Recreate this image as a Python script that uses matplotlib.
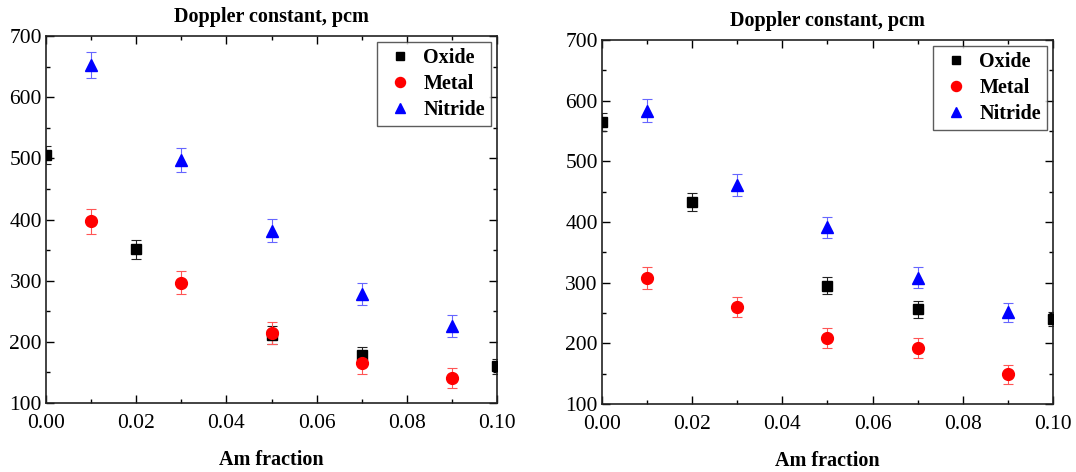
import numpy as np
import matplotlib.pyplot as plt
from matplotlib.ticker import MultipleLocator

plt.rcParams['font.family'] = ['Liberation Serif', 'DejaVu Serif']

# left panel
ox_x1 = [0.0, 0.02, 0.05, 0.07, 0.10]
ox_y1 = [505, 351, 211, 178, 160]
ox_e1 = [15, 15, 15, 14, 12]
me_x1 = [0.01, 0.03, 0.05, 0.07, 0.09]
me_y1 = [397, 297, 215, 166, 141]
me_e1 = [20, 19, 18, 18, 17]
ni_x1 = [0.01, 0.03, 0.05, 0.07, 0.09]
ni_y1 = [653, 497, 382, 279, 226]
ni_e1 = [21, 20, 19, 18, 18]

# right panel
ox_x2 = [0.0, 0.02, 0.05, 0.07, 0.10]
ox_y2 = [565, 433, 295, 256, 240]
ox_e2 = [15, 15, 14, 14, 12]
me_x2 = [0.01, 0.03, 0.05, 0.07, 0.09]
me_y2 = [307, 260, 209, 192, 149]
me_e2 = [18, 17, 17, 16, 16]
ni_x2 = [0.01, 0.03, 0.05, 0.07, 0.09]
ni_y2 = [583, 461, 391, 308, 251]
ni_e2 = [19, 18, 18, 17, 16]

fig = plt.figure(figsize=(10.76, 4.72), dpi=100)
ax1 = fig.add_axes([0.0428, 0.1462, 0.4191, 0.7775])
ax2 = fig.add_axes([0.5595, 0.1441, 0.4191, 0.7712])

def panel(ax, data, tpad):
    series = [('Oxide', 's', 'black', '#222222', 7), ('Metal', 'o', 'red', '#ff5555', 8.5),
              ('Nitride', '^', 'blue', '#6666ff', 9)]
    for (name, m, c, ec, ms), (x, y, e) in zip(series, data):
        ax.errorbar(x, y, yerr=e, fmt='none', ecolor=ec, elinewidth=0.8, capsize=3.5, capthick=0.8, zorder=2)
        ax.plot(x, y, m, color=c, ms=ms, mec=c, label=name, zorder=3)
    ax.set_xlim(0, 0.1)
    ax.set_ylim(100, 700)
    ax.xaxis.set_major_locator(MultipleLocator(0.02))
    ax.xaxis.set_minor_locator(MultipleLocator(0.01))
    ax.yaxis.set_major_locator(MultipleLocator(100))
    ax.yaxis.set_minor_locator(MultipleLocator(50))
    ax.xaxis.set_major_formatter(plt.FuncFormatter(lambda v, p: '%.2f' % v))
    ax.tick_params(which='both', direction='in', top=True, right=True, width=1.0)
    ax.tick_params(which='major', length=6, labelsize=15.5)
    ax.tick_params(axis='x', pad=8)
    ax.tick_params(axis='y', pad=3)
    ax.tick_params(which='minor', length=3)
    for s in ax.spines.values():
        s.set_linewidth(1.2)
        s.set_color('#222222')
    ax.set_title('Doppler constant, pcm', fontsize=14.5, fontweight='bold', pad=tpad)
    ax.set_xlabel('Am fraction', fontsize=14.5, fontweight='bold', labelpad=12)
    leg = ax.legend(loc='upper right', frameon=True, fancybox=False,
                    edgecolor='#333333', borderaxespad=0.3, handletextpad=0.3, labelspacing=0.3,
                    handlelength=1.7, borderpad=0.3, markerscale=0.85,
                    prop={'weight': 'bold', 'size': 14.5})
    leg.get_frame().set_linewidth(1.0)

panel(ax1, [(ox_x1, ox_y1, ox_e1), (me_x1, me_y1, me_e1), (ni_x1, ni_y1, ni_e1)], 10)
panel(ax2, [(ox_x2, ox_y2, ox_e2), (me_x2, me_y2, me_e2), (ni_x2, ni_y2, ni_e2)], 10)

fig.savefig('out.png', dpi=100)
